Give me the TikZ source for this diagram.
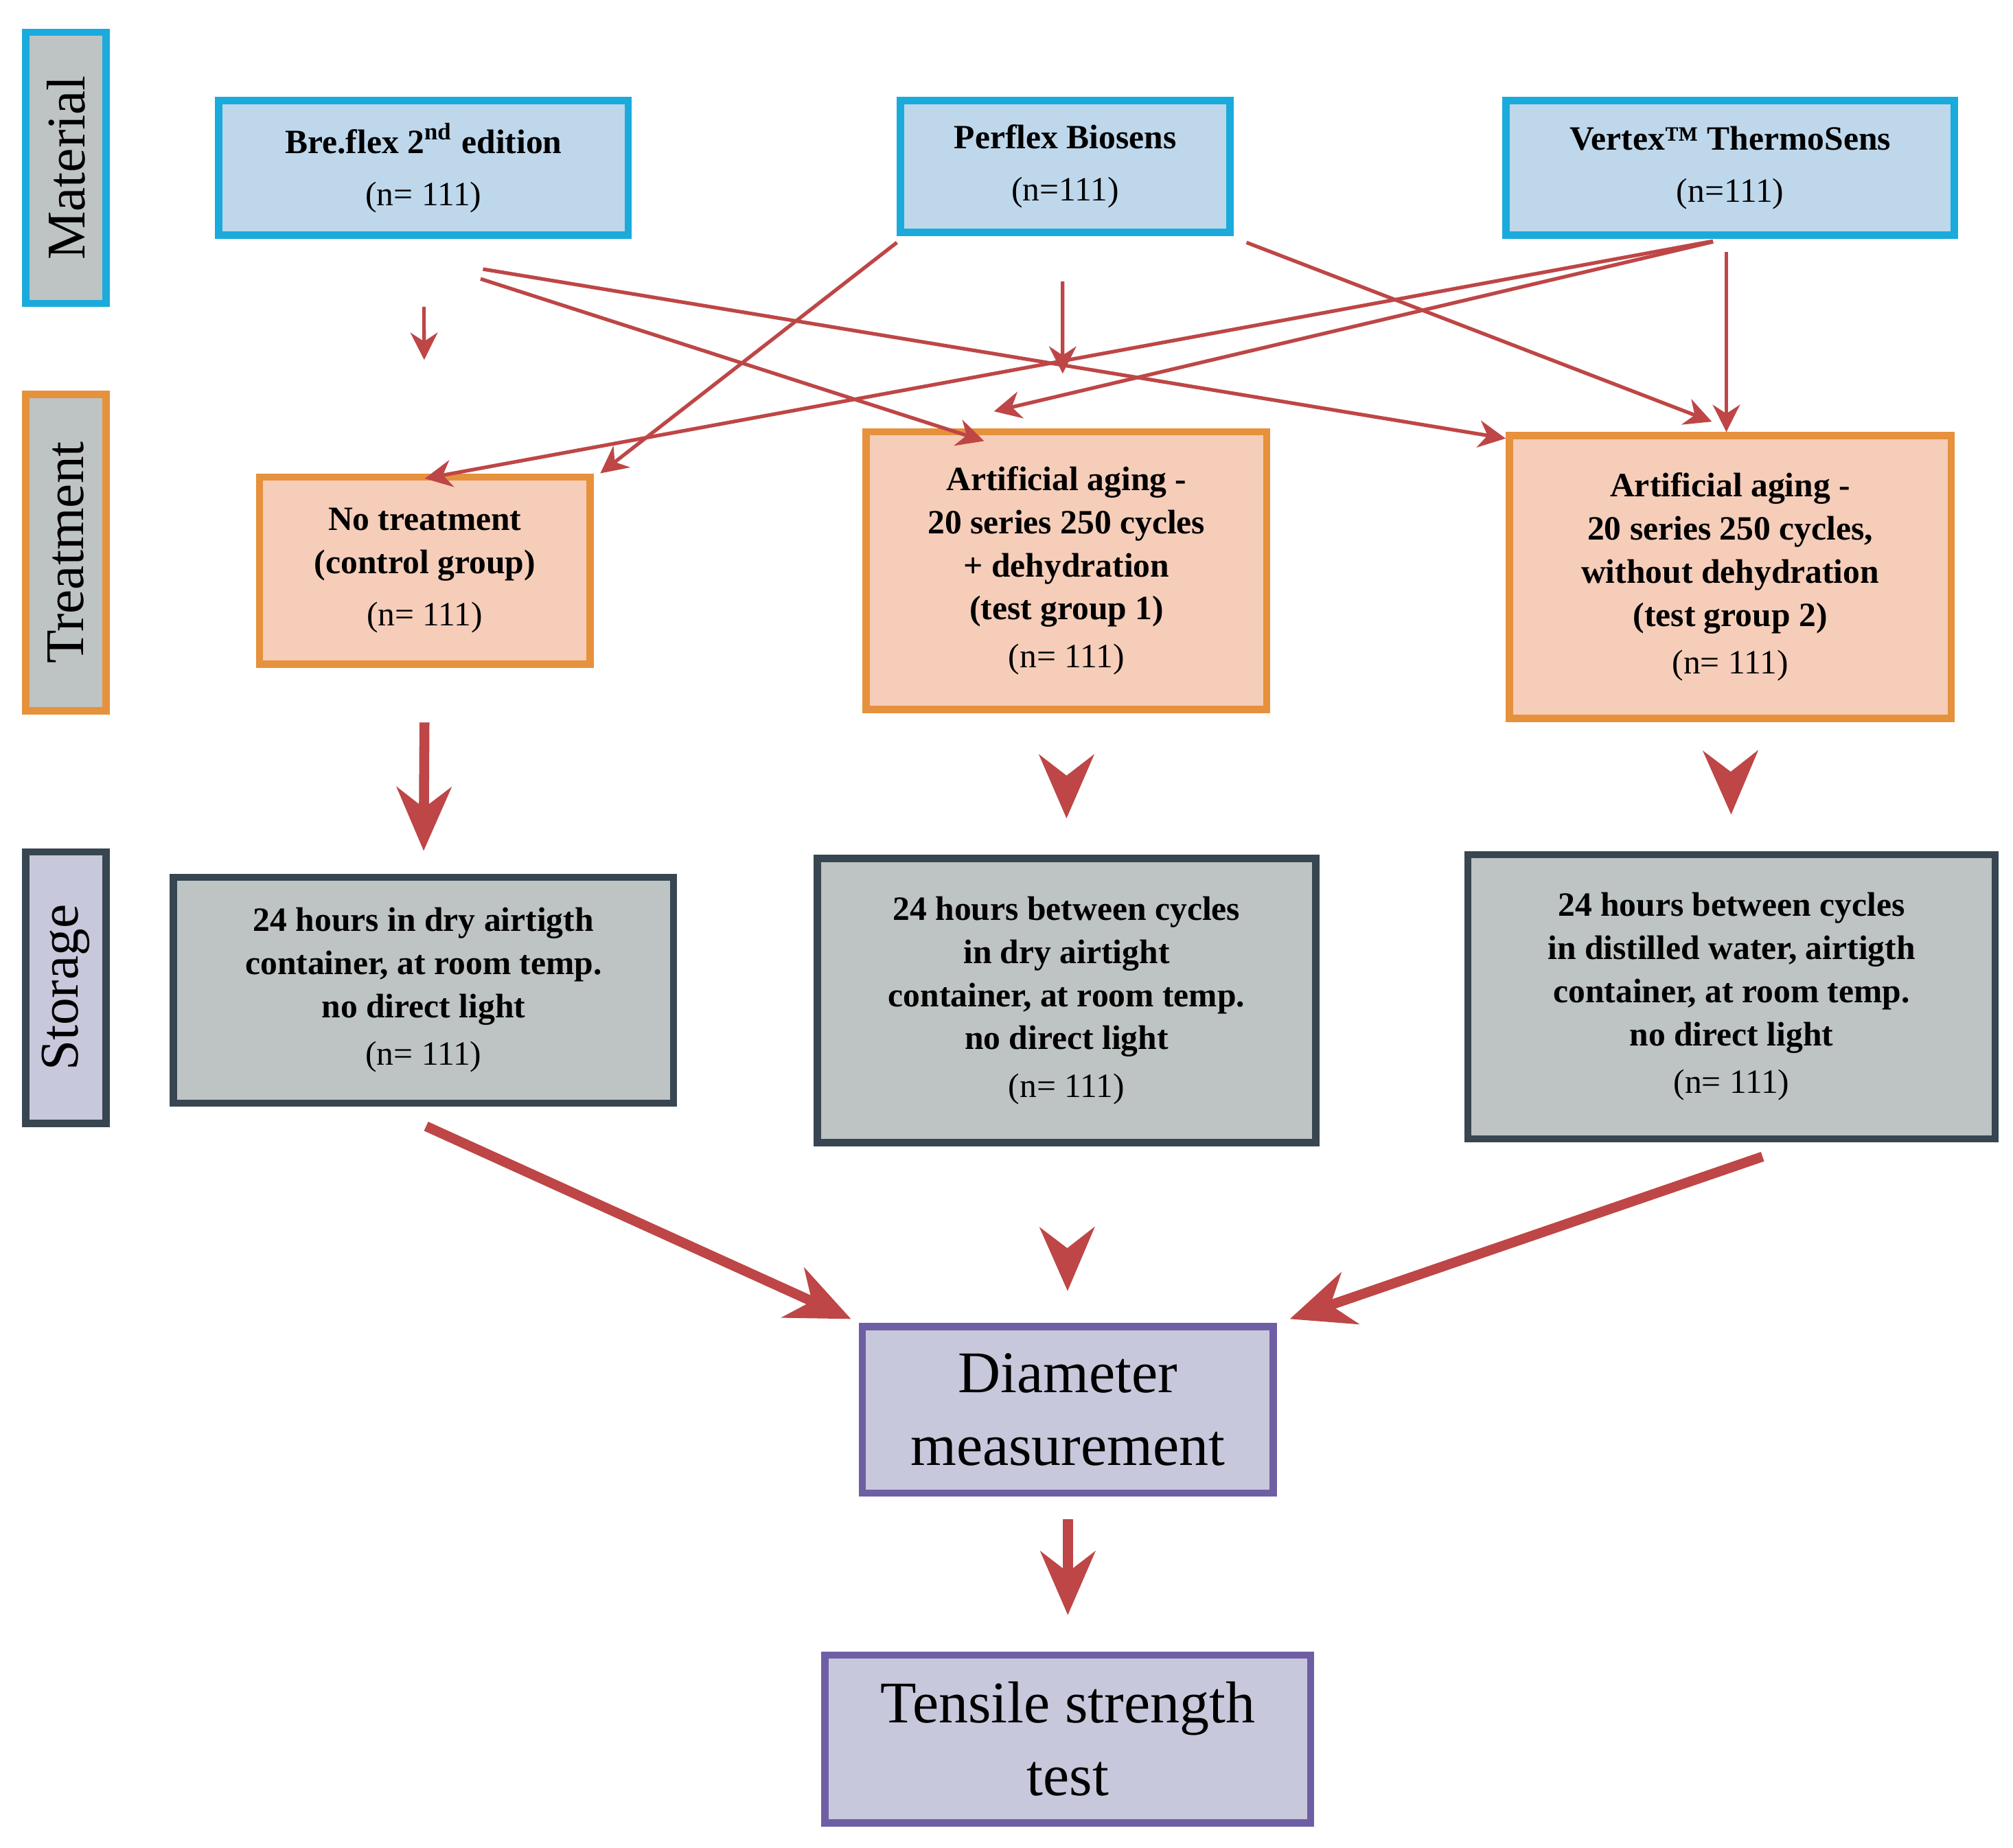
\documentclass[tikz,border=0pt]{standalone}
\usepackage{fontspec}
\setmainfont{Liberation Serif}
\usetikzlibrary{arrows.meta}
\definecolor{matline}{RGB}{27,170,220}
\definecolor{matfill}{RGB}{190,215,235}
\definecolor{trline}{RGB}{230,145,60}
\definecolor{trfill}{RGB}{245,205,185}
\definecolor{stline}{RGB}{55,70,80}
\definecolor{stfill}{RGB}{190,195,195}
\definecolor{msline}{RGB}{110,95,165}
\definecolor{msfill}{RGB}{200,200,220}
\definecolor{arr}{RGB}{190,70,70}
\begin{document}
\begin{tikzpicture}[x=0.01cm,y=-0.01cm,
  box/.style={draw,line width=1.6pt,inner sep=0pt,align=center,font=\fontsize{7.5}{9.5}\selectfont\bfseries},
  mat/.style={box,draw=matline,fill=matfill},
  tr/.style={box,draw=trline,fill=trfill},
  st/.style={box,draw=stline,fill=stfill},
  ms/.style={box,draw=msline,fill=msfill,font=\fontsize{13}{16}\selectfont},
  side/.style={draw,line width=1.6pt,rotate=90,inner sep=0pt,font=\fontsize{12}{14}\selectfont},
  thin/.style={draw=arr,line width=0.8pt,-{Stealth[length=6pt,width=6pt]}},
  thick/.style={draw=arr,line width=2.2pt,-{Stealth[length=14pt,width=12pt]}},
  nn/.style={font=\fontsize{7.5}{9.5}\selectfont\mdseries}]
\useasboundingbox (0,0) rectangle (1559,1431);
% side labels
\node[side,draw=matline,fill=stfill,minimum width=2.1cm,minimum height=0.62cm] (lmat) at (51,130) {Material};
\node[side,draw=trline,fill=stfill,minimum width=2.45cm,minimum height=0.62cm] (ltr) at (51,428) {Treatment};
\node[side,draw=stline,fill=msfill,minimum width=2.1cm,minimum height=0.62cm] (lst) at (51,765) {Storage};
% material
\node[mat,minimum width=3.17cm,minimum height=1.04cm] (bre) at (328,130) {Bre.flex 2\textsuperscript{nd} edition\\[2pt] {\mdseries (n= 111)}};
\node[mat,minimum width=2.55cm,minimum height=1.02cm] (per) at (825,129) {Perflex Biosens\\[2pt] {\mdseries (n=111)}};
\node[mat,minimum width=3.47cm,minimum height=1.04cm] (ver) at (1340,130) {Vertex\texttrademark\ ThermoSens\\[2pt] {\mdseries (n=111)}};
% treatment
\node[tr,minimum width=2.56cm,minimum height=1.45cm] (nt) at (329,442) {No treatment\\(control group)\\[2pt] {\mdseries (n= 111)}};
\node[tr,minimum width=3.1cm,minimum height=2.15cm] (aa1) at (826,442) {Artificial aging -\\20 series 250 cycles\\+ dehydration\\(test group 1)\\[1pt] {\mdseries (n= 111)}};
\node[tr,minimum width=3.42cm,minimum height=2.19cm] (aa2) at (1340,447) {Artificial aging -\\20 series 250 cycles,\\without dehydration\\(test group 2)\\[1pt] {\mdseries (n= 111)}};
% storage
\node[st,minimum width=3.87cm,minimum height=1.75cm] (s1) at (328,767) {24 hours in dry airtigth\\container, at room temp.\\no direct light\\[1pt] {\mdseries (n= 111)}};
\node[st,minimum width=3.86cm,minimum height=2.2cm] (s2) at (826,775) {24 hours between cycles\\in dry airtight\\container, at room temp.\\no direct light\\[1pt] {\mdseries (n= 111)}};
\node[st,minimum width=4.08cm,minimum height=2.2cm] (s3) at (1341,772) {24 hours between cycles\\in distilled water, airtigth\\container, at room temp.\\no direct light\\[1pt] {\mdseries (n= 111)}};
% measurement
\node[ms,minimum width=3.18cm,minimum height=1.29cm] (dia) at (827,1092) {Diameter\\measurement};
\node[ms,minimum width=3.76cm,minimum height=1.3cm] (ten) at (827,1347) {Tensile strength\\test};
% thin arrows
\draw[thin,shorten <=15pt,shorten >=25pt] (bre.south) -- (nt.north);
\draw[thin,shorten <=15pt] ([xshift=-0.06cm]bre.south) ++(0,15) -- ([xshift=0.94cm,yshift=-0.1cm]aa1.north west);
\draw[thin,shorten <=15pt] ([xshift=-0.06cm]bre.south) ++(0,15) -- ([yshift=-0.05cm]aa2.north west);
\draw[thin] ([yshift=-0.05cm]per.south west) -- ([xshift=0.05cm]nt.north east);
\draw[thin,shorten <=10pt,shorten >=12pt] ([xshift=-0.02cm]per.south) -- ([xshift=-0.03cm]aa1.north);
\draw[thin] ([xshift=0.1cm,yshift=-0.05cm]per.south east) -- ([xshift=-1.88cm,yshift=0.08cm]aa2.north east);
\draw[thin,shorten <=3pt] ([xshift=-0.03cm]ver.south) -- ([xshift=-0.03cm]aa2.north);
\draw[thin,shorten <=3pt] ([xshift=-0.03cm]ver.south) -- ([xshift=-2.14cm,yshift=0.13cm]aa1.north east);
\draw[thin,shorten <=3pt] ([xshift=-0.03cm]ver.south) -- ([yshift=-0.04cm]nt.north);
% thick arrows
\draw[thick,shorten <=12pt,shorten >=5pt] (nt.south) -- (s1.north);
\draw[thick,shorten <=15pt,shorten >=8pt] (aa1.south) -- (s2.north);
\draw[thick,shorten <=14pt,shorten >=8pt] (aa2.south) -- (s3.north);
\draw[thick] ([xshift=0.02cm,yshift=-0.15cm]s1.south) -- ([xshift=-0.06cm,yshift=0.03cm]dia.north west);
\draw[thick,shorten <=26pt,shorten >=7pt] (s2.south) -- (dia.north);
\draw[thick] ([xshift=0.24cm,yshift=-0.11cm]s3.south) -- ([xshift=0.1cm,yshift=0.03cm]dia.north east);
\draw[thick,shorten <=5pt,shorten >=8pt] (dia.south) -- (ten.north);
\end{tikzpicture}
\end{document}
